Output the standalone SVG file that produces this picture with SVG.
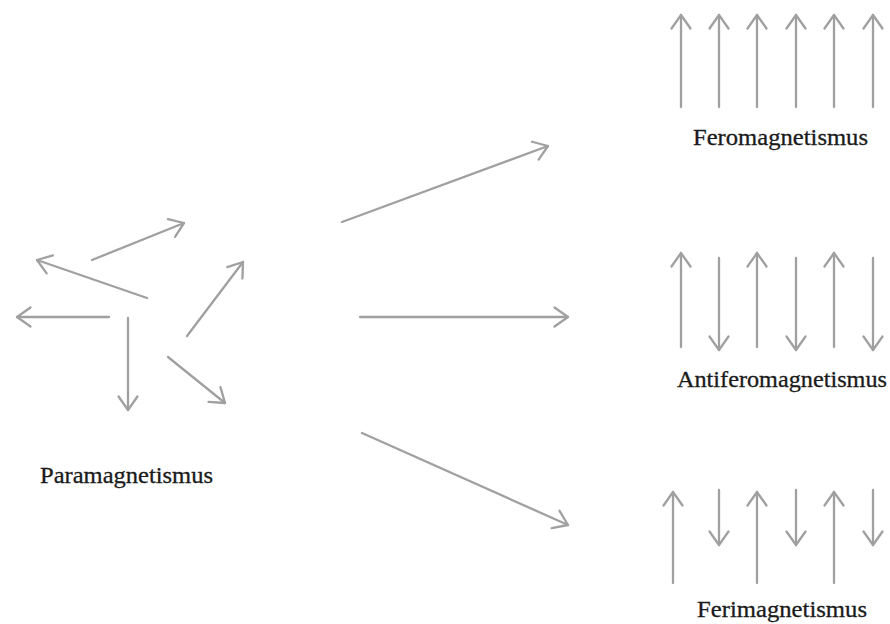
<svg xmlns="http://www.w3.org/2000/svg" width="890" height="624" viewBox="0 0 890 624">
<style>
.a{stroke:#a0a0a0;stroke-width:2.3;fill:none;marker-end:url(#h);stroke-linecap:round}
.t{font-family:"Liberation Serif",serif;font-size:23px;fill:#1a1a1a;text-anchor:middle;stroke:#1a1a1a;stroke-width:0.3}
</style>
<defs>
<marker id="h" markerUnits="userSpaceOnUse" viewBox="-16 -12 18 24" markerWidth="18" markerHeight="24" refX="0" refY="0" orient="auto">
<path d="M-13.5,-9.5 L0,0 L-13.5,9.5" fill="none" stroke="#a0a0a0" stroke-width="2.3" stroke-linecap="round" stroke-linejoin="round"/>
</marker>
</defs>
<rect width="890" height="624" fill="#fff"/>
<g id="para">
<line class="a" x1="92" y1="260" x2="184" y2="223"/>
<line class="a" x1="147" y1="298" x2="37" y2="260"/>
<line class="a" x1="109" y1="317" x2="17" y2="317"/>
<line class="a" x1="128" y1="318" x2="128" y2="410"/>
<line class="a" x1="187" y1="336" x2="243" y2="262"/>
<line class="a" x1="168" y1="357" x2="225" y2="403"/>
<text class="t" x="126.5" y="483" textLength="173" lengthAdjust="spacingAndGlyphs">Paramagnetismus</text>
</g>
<g id="connectors">
<line class="a" x1="342" y1="222" x2="548" y2="146"/>
<line class="a" x1="360" y1="317" x2="568" y2="317"/>
<line class="a" x1="362" y1="433" x2="568" y2="525"/>
</g>
<g id="fero">
<line class="a" x1="681" y1="107" x2="681" y2="15"/>
<line class="a" x1="719" y1="107" x2="719" y2="15"/>
<line class="a" x1="757" y1="107" x2="757" y2="15"/>
<line class="a" x1="796" y1="107" x2="796" y2="15"/>
<line class="a" x1="834" y1="107" x2="834" y2="15"/>
<line class="a" x1="873" y1="107" x2="873" y2="15"/>
<text class="t" x="780.5" y="145" textLength="175" lengthAdjust="spacingAndGlyphs">Feromagnetismus</text>
</g>
<g id="antifero">
<line class="a" x1="681" y1="347" x2="681" y2="253"/>
<line class="a" x1="719" y1="258" x2="719" y2="350"/>
<line class="a" x1="757" y1="347" x2="757" y2="253"/>
<line class="a" x1="796" y1="258" x2="796" y2="350"/>
<line class="a" x1="834" y1="347" x2="834" y2="253"/>
<line class="a" x1="873" y1="258" x2="873" y2="350"/>
<text class="t" x="782" y="387" textLength="210" lengthAdjust="spacingAndGlyphs">Antiferomagnetismus</text>
</g>
<g id="ferri">
<line class="a" x1="673" y1="583" x2="673" y2="492"/>
<line class="a" x1="719" y1="490" x2="719" y2="545"/>
<line class="a" x1="757" y1="583" x2="757" y2="492"/>
<line class="a" x1="796" y1="490" x2="796" y2="545"/>
<line class="a" x1="834" y1="583" x2="834" y2="492"/>
<line class="a" x1="873" y1="490" x2="873" y2="545"/>
<text class="t" x="782" y="617" textLength="170" lengthAdjust="spacingAndGlyphs">Ferimagnetismus</text>
</g>
</svg>
